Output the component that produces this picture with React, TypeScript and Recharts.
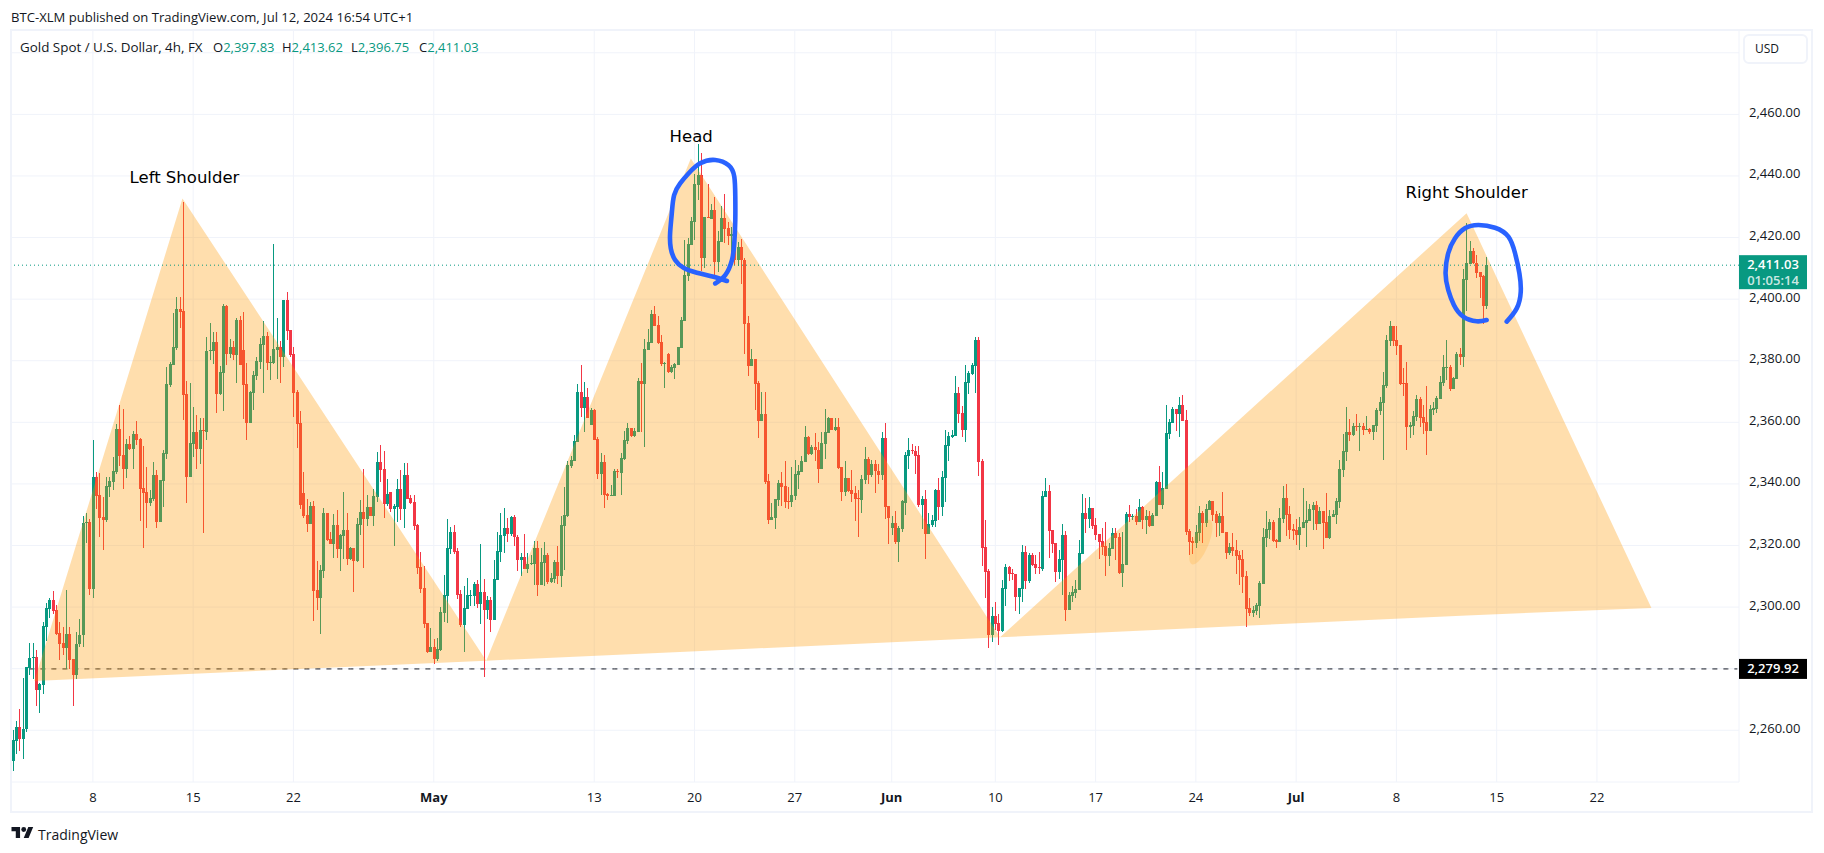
import React from "react";
import {
  Area,
  Bar,
  CartesianGrid,
  ComposedChart,
  Line,
  ReferenceDot,
  ReferenceLine,
  Scatter,
  XAxis,
  YAxis,
} from "recharts";

const UI_FONT = "'Open Sans', sans-serif";
const UP = "#089981";
const DOWN = "#f23645";
const INK = "#131722";
const GRID = "#f0f3fa";

// 4h candles
const opens = [
  2250.1,2256.6,2261,2257.3,2260.3,2280.1,2283.4,2283.7,2273.1,2274.8,
  2293.6,2299.5,2302.3,2299,2291.7,2288.2,2286.7,2291.3,2283,2278,
  2288,2290.9,2327.4,2327.5,2306,2342.2,2336.4,2329.2,2328.3,2339,
  2340.7,2343.9,2357.8,2349.4,2344.8,2352.9,2351.3,2356.2,2354.6,2338.7,
  2337.4,2333.8,2335.1,2342.9,2327.6,2340.9,2349.7,2372.1,2378.6,2384.1,
  2396.8,2396.1,2369.2,2342.3,2352.9,2356.9,2351.3,2357.5,2356.9,2383.1,
  2383.1,2386.1,2369.2,2376,2397.8,2382.2,2384.4,2381.9,2393.2,2383.5,
  2372.4,2359.8,2369.5,2375,2379.6,2385.1,2388,2379.2,2379.2,2383.5,
  2384.4,2381.3,2399.7,2390,2382.2,2369.8,2359.7,2337,2329.9,2327,
  2332.8,2305.5,2303,2311.7,2330.6,2322.1,2320.5,2326.7,2318.9,2323.1,
  2325,2315.6,2319.2,2315,2326.7,2330.9,2328.6,2332.5,2329.6,2335.8,
  2347.1,2344.8,2333.5,2337.4,2331.9,2332.5,2338.3,2331.9,2342.9,2335.4,
  2334.1,2326.7,2313,2306.2,2294.8,2285.4,2287,2283.1,2286.1,2298.1,
  2303.6,2318.9,2324.4,2318.2,2304.2,2294.2,2299.4,2303.6,2303.6,2307.5,
  2301,2304.9,2299.1,2302.3,2295.8,2308.8,2317.9,2323.1,2325.7,2323.7,
  2329.3,2322.8,2315.3,2316.3,2312.4,2314,2314,2319.2,2307.2,2314.3,
  2316.9,2308.2,2309.2,2314.6,2310.1,2326.3,2329.6,2345.8,2347.5,2353.6,
  2369.8,2364.6,2368.2,2359.1,2364,2354.6,2343.2,2347.1,2336.7,2336.1,
  2336.1,2344.2,2343.5,2348.1,2353.9,2358.1,2355.5,2356.8,2373.4,2372.4,
  2383.5,2385.8,2395.1,2391.6,2386.1,2378.9,2382.2,2376.3,2377.6,2378.6,
  2384.1,2392.9,2407.5,2417.6,2425,2437,2440.3,2413.3,2426.6,2426,
  2428.9,2412,2418.6,2426.3,2423.1,2420.5,2420.5,2412.7,2416.9,2412.7,
  2392.2,2378.3,2380.6,2372.8,2360.4,2362.7,2340.9,2328.3,2328.9,2334.8,
  2340.3,2339.3,2334.4,2334.1,2336.1,2342.9,2343.9,2347.1,2355.2,2349.7,
  2352,2351,2344.8,2352.9,2356.5,2361.4,2357.5,2358.5,2345.5,2337.4,
  2341.9,2338,2337,2335.4,2334.8,2341.3,2348.1,2342.9,2346.5,2344.2,
  2342.9,2354.9,2332.8,2325.7,2327.3,2321.1,2325.3,2333.8,2349.1,2351,
  2350.7,2349.4,2333.2,2335.1,2323.7,2326.7,2328,2338,2332.5,2341.9,
  2352.3,2355.2,2355.5,2369.5,2363,2357.5,2372.8,2375.7,2378.3,2386.7,
  2347.4,2319.5,2311.7,2290.9,2297.1,2294.8,2292.2,2305.9,2313,2311.1,
  2310.8,2303.3,2305.9,2317.9,2308.5,2316.9,2314,2313,2312.4,2335.8,
  2337.7,2325,2320.8,2311.4,2315.3,2323.4,2299.1,2303.6,2304.6,2305.6,
  2317.2,2330.6,2328.6,2332.2,2326.7,2323.7,2321.5,2319.8,2316.6,2318.9,
  2324,2322.8,2311.1,2313.7,2330.2,2329.2,2329.6,2327.6,2332.5,2328.3,
  2329.6,2326.3,2329.6,2340.6,2333.2,2338.3,2356.2,2359.8,2364.3,2362.7,
  2365.6,2360.7,2324.7,2321.5,2320.8,2324,2330.6,2327.3,2331.5,2334.4,
  2330.2,2327.3,2329.6,2324.4,2317.6,2319.5,2318.5,2316.9,2315.6,2310.1,
  2299.7,2298.1,2298.7,2300.4,2307.5,2322.4,2325,2327.6,2321.8,2321.1,
  2328.6,2335.4,2330.2,2325.4,2325,2323.4,2325.7,2327.3,2328,2331.5,
  2333.2,2327,2331.2,2327.6,2322.4,2329.3,2329.9,2334.1,2344.5,2350.4,
  2356.9,2355.9,2358.8,2358.5,2358.8,2357.5,2357.8,2356.9,2358.8,2363.7,
  2366.3,2371.8,2386.4,2391.3,2386.7,2385.1,2372.8,2372.7,2358.5,2358.8,
  2361.7,2367.6,2361.7,2360.1,2357.2,2364,2364.3,2367.6,2372.8,2377.6,
  2378,2370.8,2374,2382.2,2381.3,2406.3,2411.4,2415.5,2411.8,2408.8,2407.5,2397.83,
];

const highs = [
  2260.1,2263.1,2266.8,2277,2280.7,2288.2,2288.2,2286.1,2275.5,2295.2,
  2301.4,2303,2305.2,2300.7,2295.3,2293.6,2305.6,2293.6,2283.2,2292,
  2296.1,2329.6,2330.4,2328.6,2354.3,2343.9,2343.5,2335.7,2342.2,2342.2,
  2348.7,2359.4,2365.6,2364.3,2354.6,2355.5,2357.2,2360.4,2354.8,2352.3,
  2345.5,2338,2347.1,2344.5,2341.4,2351,2377.9,2379.6,2395.5,2400.7,
  2400.7,2431.5,2373.4,2372.8,2365,2362.4,2361.4,2361.4,2387.7,2392.2,
  2389.3,2389.3,2378.3,2398.4,2398,2387,2386.4,2393.9,2394.5,2395.8,
  2379.3,2370.2,2376.7,2381.2,2387.4,2392.9,2389.3,2381.5,2417.9,2393.9,
  2386.3,2399.8,2402.3,2390,2384.3,2370.5,2363.7,2343.9,2335.1,2334.1,
  2334.5,2315,2313.7,2332.2,2330.7,2324.4,2330.2,2331.5,2323.8,2337.4,
  2330.6,2319.5,2319.3,2329,2334.8,2344.8,2336.4,2332.6,2338.3,2350.4,
  2352.6,2350.7,2341.6,2337.5,2333.5,2341.6,2344.5,2346.8,2346.8,2336.4,
  2336.4,2327,2317.9,2313.3,2294.9,2293.2,2289.6,2290,2300,2310.4,
  2328.6,2326,2326.7,2319.2,2305.5,2306.8,2309.4,2305.6,2308.2,2308.8,
  2320.5,2309,2303.6,2303.3,2315.3,2324.4,2330.6,2332.2,2328.9,2329.6,
  2329.9,2323.4,2317.6,2323.7,2317.6,2316.9,2321.5,2321.5,2319.2,2321.1,
  2317.6,2311.1,2315.3,2319.8,2329.6,2339,2347.4,2349,2355.9,2372.4,
  2378.6,2373.1,2371.1,2364.6,2364.3,2355.2,2349.9,2349.3,2337,2339.6,
  2344.8,2344.8,2349.9,2357.1,2359.8,2358.2,2358.1,2374.4,2379.3,2387,
  2390.3,2396.4,2397.8,2394.5,2388.3,2379.5,2382.5,2378.5,2379.2,2384.5,
  2394.2,2419.2,2419.7,2426.7,2440.6,2450.4,2447.4,2426.7,2437.4,2430.9,
  2433.1,2422.1,2430.2,2434.1,2425,2423.3,2422,2418.5,2419.5,2413.3,
  2394.5,2383.8,2380.7,2373.4,2369.8,2369.8,2343.2,2333.8,2335.2,2341.2,
  2343.9,2347.4,2339,2345.5,2347.8,2346.1,2349.2,2358.8,2355.4,2352.5,
  2356.5,2353.6,2356.8,2364.2,2361.7,2361.5,2361.4,2361.4,2345.6,2347.4,
  2342,2344.5,2339.3,2338,2342.9,2352,2348.7,2347.8,2347.8,2346.5,
  2356.8,2359.8,2332.9,2329.6,2331.2,2326.3,2334.8,2350.3,2354.9,2352.9,
  2352.3,2352.3,2336.1,2338,2330.6,2329.9,2338.3,2341.9,2344.2,2357.5,
  2356.8,2357.5,2375,2371.5,2365.3,2378.6,2376.7,2379.3,2387.7,2387.7,
  2348.1,2328.3,2312.4,2300,2301.7,2297.7,2308.8,2314,2313.3,2312.4,
  2310.9,2306.3,2320.2,2319.8,2317.6,2317.6,2316.9,2317.9,2337.7,2341.9,
  2339.6,2325.1,2320.9,2318.5,2327,2324.7,2304.9,2307,2308.8,2321.8,
  2336.7,2335.4,2335.7,2332.3,2328.9,2323.8,2325.7,2327.6,2320.8,2325.7,
  2325.7,2324,2324.4,2330.9,2333.1,2330.2,2331.8,2335.1,2332.8,2331.5,
  2331.2,2330.6,2340.9,2345.8,2343.9,2365.6,2361,2365,2364.4,2368.2,
  2368.9,2364,2325.4,2322.8,2326.7,2332.8,2331.2,2333.5,2334.8,2334.5,
  2331.2,2330.6,2337.4,2324.5,2320.8,2324,2321.8,2318.2,2318.5,2311.7,
  2302.9,2300.4,2301.3,2308.5,2325.7,2331.2,2328.6,2328.3,2322.1,2332.2,
  2339.3,2339.9,2332.8,2327,2328.6,2329.2,2338.7,2334.4,2333.5,2334.1,
  2334.4,2332.5,2331.3,2337,2331.5,2331.5,2335.4,2347.7,2356.2,2365,
  2361.1,2359.8,2362.7,2359.8,2359.8,2362,2358.1,2359.2,2364.6,2368.2,
  2376.3,2388.3,2392.9,2391.4,2391.3,2385.2,2377.6,2379.6,2360.1,2363.7,
  2368.9,2368.2,2365.6,2371.8,2365.6,2366.6,2368.5,2375,2381.9,2386.7,
  2378.6,2374.7,2382.8,2384.1,2409.7,2424.6,2418.8,2416.6,2414.3,2408.9,2408,2413.62,
];

const lows = [
  2246.9,2252.3,2253.4,2250.8,2259.5,2278,2276.6,2267.9,2265.7,2271.8,
  2289,2296.5,2297.7,2291,2282.8,2284.4,2280,2280,2267.9,2276.5,
  2287,2287.1,2320.9,2303.9,2303.1,2331.9,2322.8,2318.5,2327.6,2335.7,
  2338,2343.2,2345.8,2338.3,2341.9,2351,2344.8,2352.6,2327.9,2319.2,
  2325.7,2332.8,2334.5,2325.7,2327.5,2332.5,2348.1,2371.5,2378.5,2383.5,
  2390.5,2360.7,2333.9,2342.2,2348.7,2344.8,2346.5,2324,2354.2,2380.2,
  2378.9,2363,2368.8,2363.7,2378.6,2380.9,2380.2,2372.8,2378.5,2361.1,
  2354.2,2359.7,2364,2373.7,2377.3,2369.5,2377,2373.7,2378.9,2374,
  2372.9,2378,2386.7,2381.3,2361.6,2351.6,2332,2328.8,2324.4,2326.9,
  2295.5,2299.1,2291.3,2309.4,2321.5,2320.4,2316,2316,2311.7,2315.6,
  2313.7,2315.3,2304.9,2314.6,2323.4,2312.7,2326.3,2329.5,2326.3,2334.1,
  2340.6,2329,2332.8,2330.9,2319.8,2327.6,2328.3,2325.7,2335,2333.5,
  2325,2310.7,2304.6,2293.2,2285.1,2285.3,2281.5,2282.5,2285.8,2295.2,
  2294.8,2317.3,2317.3,2302.6,2293.5,2285.4,2299.4,2300.4,2300.2,2299.7,
  2294.5,2277.4,2296.1,2291.9,2295.7,2308.7,2314.6,2317.6,2321.1,2323.1,
  2319.8,2311.7,2310.1,2312.3,2311.1,2313.7,2307.2,2303.6,2307.1,2306.9,
  2307.5,2307.8,2307.8,2307.5,2306.5,2312,2329.3,2345.2,2347.4,2353.5,
  2361.7,2356.9,2361.3,2359,2354.2,2341.6,2336.4,2332.2,2334.8,2336,
  2336,2342,2336.4,2347.8,2353,2355.3,2355.1,2356.7,2356.8,2352,
  2383.4,2385.6,2391.2,2385.4,2378.3,2371.2,2376,2376,2374,2378.5,
  2384,2392.8,2405.9,2417.5,2419.2,2432.2,2409.1,2410.1,2426.2,2425.9,
  2407.8,2408.8,2418.5,2418.2,2417.6,2413,2411,2410.8,2405,2382.2,
  2375,2378.2,2364,2354.9,2360.3,2340,2327,2328.2,2325.4,2332.8,
  2332.8,2332.2,2331.8,2332.5,2334.8,2338.3,2343.8,2347,2349.5,2349.5,
  2347.4,2340.3,2344.7,2348.1,2356.4,2357.4,2357.2,2345,2334.4,2336.1,
  2337.3,2334.1,2328,2322.8,2330.6,2340,2340,2342.2,2337,2340,
  2341.3,2328.6,2320.5,2323.4,2320.5,2314.6,2324.4,2329.9,2344.8,2349.7,
  2343.2,2332.5,2325.4,2315.6,2323.6,2326,2326,2328.3,2329.6,2334.1,
  2347.4,2354.9,2355.4,2359.8,2355.2,2353.6,2369.2,2375.5,2369.5,2342.6,
  2313.3,2302.9,2286.7,2288.7,2292.6,2287.7,2291.9,2300.4,2308.5,2308.8,
  2298.7,2297.8,2301.7,2305.9,2307.8,2313.5,2310.7,2310.7,2311.7,2335.7,
  2315.9,2317.6,2308.1,2309.1,2303.9,2295.5,2299,2301.7,2302.9,2305.5,
  2317.2,2324,2325.7,2325.4,2321.8,2315.6,2316.9,2310.1,2313.3,2318.8,
  2315.3,2310.7,2306.5,2313.6,2327.6,2328.3,2326.6,2327.5,2325.4,2323.7,
  2326,2326.2,2329.5,2333.1,2331.9,2338.2,2354.6,2359.7,2357.2,2355.2,
  2360.3,2323.4,2316.9,2317.3,2319.2,2321.5,2320.8,2326,2331.5,2328,
  2322.8,2323.1,2323.9,2315.6,2316.9,2316.6,2310.7,2307.2,2304.6,2293.5,
  2297.1,2296.8,2297.4,2296.5,2307.4,2319.5,2322.1,2321.1,2319.2,2321,
  2327.3,2323.1,2322.1,2321.8,2320.2,2318.5,2325.7,2319.5,2328,2325,
  2325,2326.9,2318.9,2322.3,2322.1,2329.2,2327,2332.2,2342.2,2347.4,
  2353.9,2355.5,2357.2,2350.7,2355.9,2357.4,2356.2,2354.2,2356.9,2362.4,
  2347.7,2371.1,2384.8,2384.8,2381.9,2372.1,2368.5,2351,2354.9,2355.9,
  2360.4,2358.5,2356.2,2349.4,2357.1,2362.4,2363,2367.5,2371.8,2373.7,
  2370.2,2370.7,2374,2378.6,2378.1,2396.3,2411.3,2411.5,2406.8,2400.4,2391.8,2396.75,
];

const closes = [
  2256.8,2261,2257.3,2260.3,2280.4,2283.4,2283.7,2273.1,2275,2293.9,
  2299.7,2302.3,2298.7,2291.3,2288,2286.7,2291.3,2282.8,2278,2288,
  2291,2327.2,2327.6,2306,2342.2,2336.2,2329,2328.3,2339.3,2340.9,
  2344.2,2357.8,2349,2344.8,2352.9,2351.3,2356.2,2354.2,2338.3,2337,
  2333.8,2335.4,2342.9,2327.6,2341.3,2350,2372.4,2378.9,2384.4,2396.8,
  2395.9,2368.8,2342.3,2353.3,2356.9,2351.3,2357.5,2357.2,2383.1,2383.5,
  2386.1,2369.2,2376.3,2397.8,2382.2,2384.4,2381.9,2393.2,2378.6,2372.1,
  2359.8,2369.8,2375.4,2379.9,2385.4,2388,2379.2,2379.6,2383.8,2384.4,
  2381.3,2399.7,2389.7,2381.8,2369.6,2359.4,2333.2,2329.6,2327,2332.8,
  2305.2,2303,2312,2330.6,2321.8,2320.5,2326.7,2318.9,2323.4,2325,
  2315.6,2319.2,2315,2327,2330.9,2328.6,2332.5,2329.6,2336.1,2347.1,
  2344.5,2333.5,2336.7,2331.9,2332.8,2338.3,2331.9,2342.9,2335.1,2333.8,
  2326.4,2312.7,2305.9,2294.5,2285.4,2287,2283.1,2286.4,2298.4,2303.9,
  2319.2,2324.4,2317.9,2303.9,2294.2,2299.7,2303.9,2303.9,2307.5,2301,
  2304.9,2299.1,2302.3,2295.8,2309.1,2318.2,2323.4,2325.7,2323.7,2329.3,
  2322.8,2315.3,2316.3,2312.4,2314,2314.3,2319.2,2307.2,2314.6,2316.9,
  2308.2,2309.5,2314.6,2310.1,2326.6,2329.9,2346.1,2347.8,2353.9,2369.8,
  2364.6,2368.2,2361.4,2364,2354.3,2343.2,2347.1,2336.4,2336.1,2336.4,
  2344.2,2344,2348.4,2354.2,2358.1,2355.5,2357.1,2373.4,2372.4,2383.8,
  2386.1,2395.1,2391.3,2385.8,2378.9,2379.2,2376.3,2378,2378.9,2384.4,
  2393.2,2407.8,2417.9,2425.4,2437.4,2440.3,2413.3,2426.6,2426.3,2428.9,
  2412,2418.9,2426.3,2422.8,2420.5,2421,2412.7,2416.9,2412.7,2391.9,
  2378.3,2380.6,2372.4,2360.4,2362.7,2340.6,2328.3,2329.2,2335.1,2340.3,
  2339,2334.1,2334.1,2336.4,2343.2,2344.2,2347.4,2355.2,2349.7,2352,
  2351,2344.8,2353.3,2356.8,2361.4,2357.5,2358.5,2345.1,2337.4,2341.9,
  2337.7,2336.7,2335.1,2335.1,2341.6,2348.1,2342.9,2346.5,2344.2,2342.9,
  2354.9,2332.5,2328.9,2327.3,2321.1,2325.7,2334.3,2349.4,2351,2350.7,
  2349.1,2333.2,2335.1,2323.7,2327,2328.3,2338,2332.5,2342.2,2352.6,
  2355.5,2355.9,2369.5,2362.7,2357.5,2373.1,2376,2378.6,2386.7,2347.1,
  2319.2,2311.4,2290.9,2297.1,2294.5,2292.2,2306.2,2313,2310.8,2310.8,
  2303.3,2306.2,2317.9,2308.5,2316.9,2313.7,2312.7,2312.7,2336.1,2337.7,
  2324.8,2320.5,2311.4,2315.6,2323.4,2299.1,2303.9,2304.9,2305.9,2317.6,
  2330.6,2328.6,2332.2,2326.3,2323.4,2321.1,2319.5,2316.6,2319.2,2324,
  2322.4,2311.1,2314,2330.2,2329.2,2329.6,2327.6,2332.5,2328.3,2329.6,
  2326.3,2329.9,2340.6,2333.2,2338.7,2356.5,2360.1,2364.3,2362.7,2365.6,
  2360.4,2324.4,2321.1,2320.8,2324.4,2330.6,2327.3,2331.9,2334.4,2329.9,
  2327.3,2329.6,2324,2317.6,2319.5,2318.2,2316.6,2315.3,2309.8,2299.4,
  2298.1,2299.1,2300.7,2307.8,2322.8,2325.4,2327.6,2321.5,2321.1,2328.9,
  2335.4,2329.9,2325,2324.7,2323.4,2326,2327.6,2328.3,2331.9,2333.2,
  2327,2331.2,2327.3,2322.4,2329.6,2330.2,2334.4,2344.8,2350.7,2356.9,
  2355.9,2358.8,2358.5,2358.8,2357.5,2357.8,2356.9,2359.1,2364,2366.6,
  2372.1,2386.7,2391.3,2386.4,2384.8,2372.4,2372.4,2358.5,2359.1,2362,
  2367.6,2361.4,2359.8,2357.2,2364.3,2364.6,2367.9,2373.1,2378,2378,
  2370.8,2374.4,2382.2,2381.2,2406.4,2411.6,2415.5,2411.6,2408.6,2407.2,2397.8,2411.03,
];

// slots on the time axis, including the empty space right of the last candle
const BAR_SLOTS = 517;
const tickIndexes = [24, 54, 84, 126, 174, 204, 234, 263, 294, 324, 354, 384, 414, 444, 474];
const tickLabels = ["8", "15", "22", "May", "13", "20", "27", "Jun", "10", "17", "24", "Jul", "8", "15", "22"];
const monthLabels = ["May", "Jun", "Jul"];
const priceTicks = [2260, 2280, 2300, 2320, 2340, 2360, 2380, 2400, 2420, 2440, 2460, 2480];
// these two sit behind the USD button and the support tag, so no text
const hiddenPriceLabels = [2280, 2480];

const LAST_PRICE = 2411.03;
const SUPPORT = 2279.92;
const SUPPORT_START = 5;

// head and shoulders drawing: bar position, neckline price, top price
const patternX = [7, 51.3, 142.2, 203.4, 295.9, 435.5, 490.8];
const patternNeck = [2276, 2278.2, 2282.6, 2285.6, 2290.2, 2297.3, 2299.7];
const patternTop = [2276, 2432.7, 2282.6, 2445.7, 2290.2, 2427.9, 2299.7];

// hand drawn circles
const headLoopX = [214.2,210.2,205.2,201.2,198.7,197.4,197.2,197.7,198.4,200.2,202.7,206.2,210.7,214.7,216.4,216.7,216.7,216.4,215.7,213.7,210.7];
const headLoopY = [2405.9,2407.3,2408.6,2410.2,2412.7,2416.5,2421.4,2427.9,2433.8,2437.6,2440.8,2444.1,2445.2,2443.5,2439.8,2433.3,2425.7,2418.1,2412.7,2407.8,2405.1];
const shoulderLoopX = [441.5,438.5,434.5,431.7,430,429.2,430,432,435,439,444,448,450,451.3,451.7,450.5,447.5];
const shoulderLoopY = [2393.2,2392.8,2394.3,2398.1,2403,2408.4,2414.9,2419.7,2423,2424.1,2423.2,2420.3,2414.9,2408.4,2402.4,2397,2392.7];

const chartData = Array.from({ length: BAR_SLOTS }, (_, idx) => ({
  idx,
  open: opens[idx],
  close: closes[idx],
  range: idx < opens.length ? [lows[idx], highs[idx]] : null,
  support: idx >= SUPPORT_START ? SUPPORT : null,
}));

const patternData = patternX.map((x, i) => ({ x, band: [patternNeck[i], patternTop[i]] }));
const headLoop = headLoopX.map((x, i) => ({ x, price: headLoopY[i] }));
const shoulderLoop = shoulderLoopX.map((x, i) => ({ x, price: shoulderLoopY[i] }));

const formatPrice = (value: number) =>
  value.toLocaleString("en-US", { minimumFractionDigits: 2, maximumFractionDigits: 2 });

// candle drawn from the high-low bar the library positions
const Candle = (props: any) => {
  const { x, y, width, height, payload } = props;
  if (!payload || !payload.range || !(height > 0)) return null;
  const [low, high] = payload.range;
  const perUnit = height / (high - low);
  const top = y + (high - Math.max(payload.open, payload.close)) * perUnit;
  const bodyHeight = Math.max(Math.abs(payload.open - payload.close) * perUnit, 1);
  const center = Math.round(x + width / 2);
  const color = payload.close >= payload.open ? UP : DOWN;
  return (
    <g shapeRendering="crispEdges">
      <rect x={center - 0.5} y={y} width={1} height={height} fill={color} />
      <rect x={center - 1.5} y={top} width={3} height={bodyHeight} fill={color} />
    </g>
  );
};

const DateTick = (props: any) => {
  const { x, y, payload } = props;
  const label = tickLabels[tickIndexes.indexOf(payload.value)];
  const isMonth = monthLabels.includes(label);
  return (
    <text
      x={x}
      y={y + 12}
      textAnchor="middle"
      fontFamily={UI_FONT}
      fontSize={13}
      fontWeight={isMonth ? 700 : 400}
      fill={INK}
    >
      {label}
    </text>
  );
};

const PriceTick = (props: any) => {
  const { x, y, payload } = props;
  if (hiddenPriceLabels.includes(payload.value)) return null;
  return (
    <text x={x} y={y + 2.5} textAnchor="start" fontFamily={UI_FONT} fontSize={13} fill={INK}>
      {formatPrice(payload.value)}
    </text>
  );
};

const PriceTag = (props: any) => {
  const { viewBox, lines, fill, above, below } = props;
  const left = viewBox.x + viewBox.width;
  return (
    <g fontFamily={UI_FONT} fontSize={13} fontWeight={600} textAnchor="middle">
      <rect x={left} y={viewBox.y - above} width={68} height={above + below} fill={fill} />
      {lines.map((line: string, i: number) => (
        <text key={i} x={left + 34} y={viewBox.y + 4 + i * 15.5} fill="#ffffff" fillOpacity={i === 0 ? 1 : 0.8}>
          {line}
        </text>
      ))}
    </g>
  );
};

const Note = ({ cx, cy, text }: any) => (
  <text x={cx} y={cy} dy={5} textAnchor="middle" fontFamily="'DejaVu Sans', sans-serif" fontSize={16.5} fill="#000000">
    {text}
  </text>
);

const Brush = ({ cx, cy }: any) => (
  <ellipse cx={cx} cy={cy} rx={8} ry={24} transform={`rotate(22 ${cx} ${cy})`} fill="#ff9800" fillOpacity={0.18} />
);

const Legend = () => {
  const values = [
    { label: "O", value: "2,397.83", left: 213 },
    { label: "H", value: "2,413.62", left: 282 },
    { label: "L", value: "2,396.75", left: 351 },
    { label: "C", value: "2,411.03", left: 419 },
  ];
  return (
    <>
      <span style={{ position: "absolute", left: 20, top: 38, whiteSpace: "nowrap", fontSize: 13.4 }}>
        Gold Spot / U.S. Dollar, 4h, FX
      </span>
      {values.map((v) => (
        <span key={v.label} style={{ position: "absolute", left: v.left, top: 38, whiteSpace: "nowrap" }}>
          {v.label}
          <span style={{ color: UP }}>{v.value}</span>
        </span>
      ))}
    </>
  );
};

export default function App() {
  return (
    <div
      style={{
        position: "absolute",
        left: 0,
        top: 0,
        width: 1824,
        height: 853,
        background: "#ffffff",
        overflow: "hidden",
        fontFamily: UI_FONT,
        fontSize: 13,
        color: INK,
      }}
    >
      <ComposedChart
        width={1824}
        height={853}
        data={chartData}
        margin={{ top: 30, right: 11, bottom: 40, left: 11 }}
        barCategoryGap={0}
      >
        <CartesianGrid stroke={GRID} />
        <XAxis
          dataKey="idx"
          type="category"
          ticks={tickIndexes}
          interval={0}
          height={31}
          axisLine={false}
          tickLine={false}
          tick={<DateTick />}
        />
        <XAxis xAxisId="num" type="number" dataKey="x" domain={[0, BAR_SLOTS]} hide />
        <YAxis
          orientation="right"
          type="number"
          width={74}
          domain={[2243.2, 2487.4]}
          ticks={priceTicks}
          interval={0}
          axisLine={false}
          tickLine={false}
          tickSize={0}
          tickMargin={10}
          tick={<PriceTick />}
        />
        <Line
          dataKey="support"
          stroke={INK}
          strokeWidth={1}
          strokeDasharray="5 6"
          dot={false}
          connectNulls={false}
          isAnimationActive={false}
          zIndex={250}
        />
        <Bar dataKey="range" shape={<Candle />} isAnimationActive={false} zIndex={300} />
        <Area
          data={patternData}
          xAxisId="num"
          dataKey="band"
          stroke="none"
          fill="#ff9800"
          fillOpacity={0.32}
          isAnimationActive={false}
          zIndex={350}
        />
        <ReferenceDot xAxisId="num" x={356} y={2321.1} r={0} shape={<Brush />} />
        <Scatter
          data={headLoop}
          xAxisId="num"
          dataKey="price"
          shape={() => null}
          line={{ stroke: "#2962ff", strokeWidth: 4.6, strokeLinecap: "round" }}
          lineJointType="natural"
          isAnimationActive={false}
        />
        <Scatter
          data={shoulderLoop}
          xAxisId="num"
          dataKey="price"
          shape={() => null}
          line={{ stroke: "#2962ff", strokeWidth: 4.6, strokeLinecap: "round" }}
          lineJointType="natural"
          isAnimationActive={false}
        />
        <ReferenceLine
          y={LAST_PRICE}
          stroke={UP}
          strokeDasharray="1 3"
          label={<PriceTag lines={[formatPrice(LAST_PRICE), "01:05:14"]} fill={UP} above={10} below={24} />}
        />
        <ReferenceLine
          y={SUPPORT}
          stroke="none"
          label={<PriceTag lines={[formatPrice(SUPPORT)]} fill="#000000" above={10} below={10} />}
        />
        <ReferenceDot xAxisId="num" x={51.9} y={2439.3} r={0} shape={<Note text="Left Shoulder" />} />
        <ReferenceDot xAxisId="num" x={203.5} y={2452.6} r={0} shape={<Note text="Head" />} />
        <ReferenceDot xAxisId="num" x={435.5} y={2434.4} r={0} shape={<Note text="Right Shoulder" />} />
      </ComposedChart>

      <div style={{ position: "absolute", left: 10, top: 29, width: 1799, height: 780, border: `2px solid ${GRID}`, pointerEvents: "none" }} />
      <div style={{ position: "absolute", left: 11, top: 8, whiteSpace: "nowrap", fontSize: 13.1 }}>
        BTC-XLM published on TradingView.com, Jul 12, 2024 16:54 UTC+1
      </div>
      <Legend />
      <div
        style={{
          position: "absolute",
          left: 1743,
          top: 34,
          width: 51,
          height: 26,
          border: `2px solid ${GRID}`,
          borderRadius: 6,
          background: "#ffffff",
          lineHeight: "26px",
          paddingLeft: 10,
          textAlign: "left",
          fontSize: 12,
        }}
      >
        USD
      </div>
      <svg style={{ position: "absolute", left: 11, top: 827 }} width={23} height={11} viewBox="0 4 36 18">
        <path d="M14 22H7V11H0V4h14v18zM28 22h-8l7.5-18h8L28 22z" fill={INK} />
        <circle cx={20} cy={8} r={4} fill={INK} />
      </svg>
      <div style={{ position: "absolute", left: 38, top: 825, whiteSpace: "nowrap", fontSize: 14 }}>TradingView</div>
    </div>
  );
}
